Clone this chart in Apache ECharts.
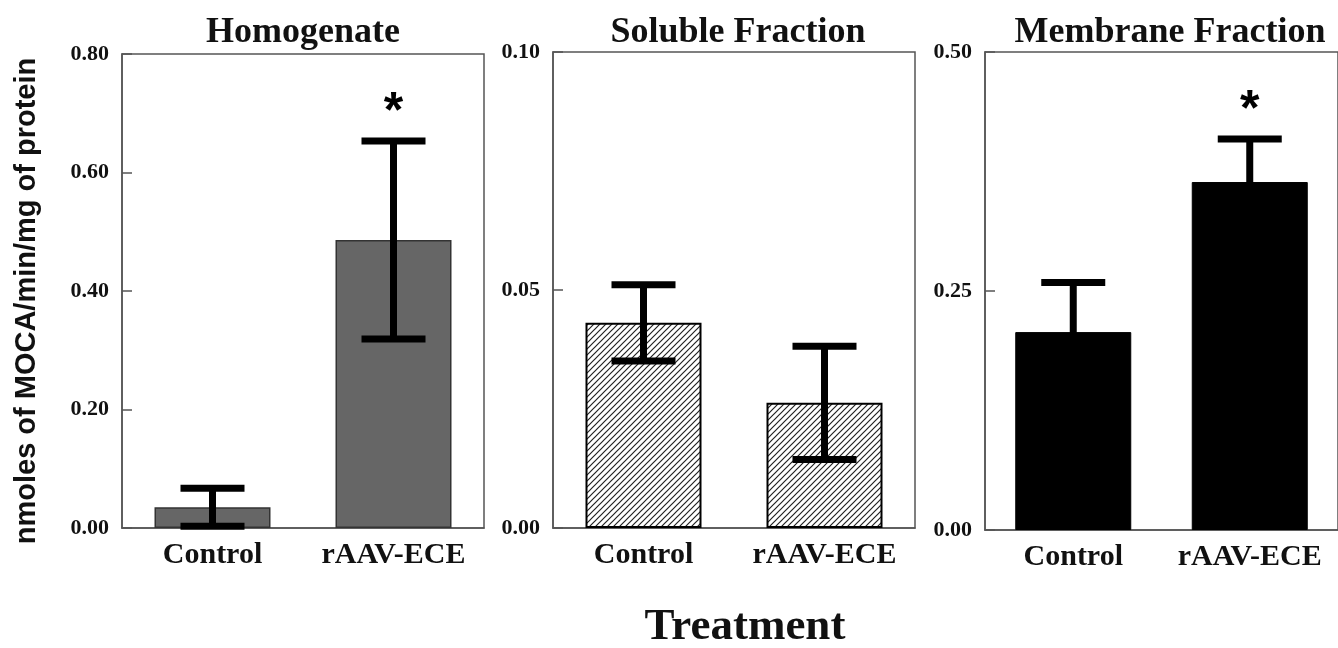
<!DOCTYPE html>
<html>
<head>
    <meta charset="utf-8">
    <title>MOCA activity</title>
    <style>
    html, body { margin: 0; padding: 0; background: #fff; }
    </style>
    <script type="text/javascript" src="https://cdn.jsdelivr.net/npm/echarts@6/dist/echarts.min.js"></script>
</head>
<body>
    <div id="main" style="width:1338px;height:648px"></div>
    <script>
    // data
    var categories = ['Control', 'rAAV-ECE'];
    var panelTitles = ['Homogenate', 'Soluble Fraction', 'Membrane Fraction'];

    var homMean = [0.035, 0.486];
    var homErr = [0.032, 0.167];
    var homSig = [0, 1];

    var solMean = [0.0431, 0.0263];
    var solErr = [0.008, 0.0119];
    var solSig = [0, 0];

    var memMean = [0.207, 0.364];
    var memErr = [0.052, 0.045];
    var memSig = [0, 1];

    var yMax = [0.8, 0.1, 0.5];
    var yStep = [0.2, 0.05, 0.25];

    var serif = 'Liberation Serif';
    var boxColor = '#555';

    // hatch pattern for the soluble fraction bars
    var hatch = document.createElement('canvas');
    hatch.width = 6;
    hatch.height = 6;
    var hc = hatch.getContext('2d');
    hc.fillStyle = '#fff';
    hc.fillRect(0, 0, 6, 6);
    hc.strokeStyle = '#222';
    hc.lineWidth = 1.2;
    hc.beginPath();
    hc.moveTo(0, 6); hc.lineTo(6, 0);
    hc.moveTo(-1, 1); hc.lineTo(1, -1);
    hc.moveTo(5, 7); hc.lineTo(7, 5);
    hc.stroke();

    function errData(mean, err, sig) {
        var out = [];
        for (var i = 0; i < mean.length; i++) {
            out.push([i, mean[i] - err[i], mean[i] + err[i], sig[i]]);
        }
        return out;
    }

    function renderErr(params, api) {
        var x = api.value(0);
        var lo = api.coord([x, api.value(1)]);
        var hi = api.coord([x, api.value(2)]);
        var half = 32;
        var st = { stroke: '#000', lineWidth: 7 };
        var kids = [
            { type: 'line', shape: { x1: hi[0], y1: hi[1], x2: lo[0], y2: lo[1] }, style: { stroke: '#000', lineWidth: 7 } },
            { type: 'line', shape: { x1: hi[0] - half, y1: hi[1], x2: hi[0] + half, y2: hi[1] }, style: st },
            { type: 'line', shape: { x1: lo[0] - half, y1: lo[1], x2: lo[0] + half, y2: lo[1] }, style: st }
        ];
        if (api.value(3)) {
            kids.push({
                type: 'text',
                x: hi[0], y: hi[1] - 28,
                style: { text: '*', font: 'bold 50px "Liberation Sans"', fill: '#000', align: 'center', verticalAlign: 'middle' }
            });
        }
        return { type: 'group', children: kids };
    }

    var grids = [
        { left: 122, top: 54, width: 362, height: 474 },
        { left: 553, top: 52, width: 362, height: 476 },
        { left: 985, top: 52, width: 362, height: 478 }
    ];

    var xAxes = [], yAxes = [];
    for (var g = 0; g < 3; g++) {
        grids[g].show = true;
        grids[g].borderColor = boxColor;
        grids[g].borderWidth = 1.5;
        grids[g].backgroundColor = '#fff';
        xAxes.push({
            type: 'category',
            gridIndex: g,
            data: categories,
            axisTick: { show: false },
            axisLine: { lineStyle: { color: boxColor, width: 1.5 } },
            axisLabel: { interval: 0, hideOverlap: false, color: '#111', fontFamily: serif, fontWeight: 'bold', fontSize: 30, margin: 12 }
        });
        yAxes.push({
            type: 'value',
            gridIndex: g,
            min: 0,
            max: yMax[g],
            interval: yStep[g],
            splitLine: { show: false },
            axisLine: { show: true, lineStyle: { color: boxColor, width: 1.5 } },
            axisTick: { show: true, inside: true, length: 10, lineStyle: { color: boxColor, width: 1.5 } },
            axisLabel: {
                color: '#111', fontFamily: serif, fontWeight: 'bold', fontSize: 22, margin: 13,
                formatter: function (v) { return v.toFixed(2); }
            }
        });
    }

    var means = [homMean, solMean, memMean];
    var errs = [homErr, solErr, memErr];
    var sigs = [homSig, solSig, memSig];
    var barStyles = [
        { color: '#666666', borderColor: '#333', borderWidth: 1.5 },
        { color: { image: hatch, repeat: 'repeat' }, borderColor: '#000', borderWidth: 2 },
        { color: '#000', borderColor: '#000', borderWidth: 1 }
    ];

    var series = [];
    for (var k = 0; k < 3; k++) {
        series.push({
            type: 'bar',
            xAxisIndex: k,
            yAxisIndex: k,
            barWidth: 116,
            itemStyle: barStyles[k],
            data: means[k],
            silent: true
        });
        series.push({
            type: 'custom',
            xAxisIndex: k,
            yAxisIndex: k,
            renderItem: renderErr,
            data: errData(means[k], errs[k], sigs[k]),
            z: 5,
            silent: true
        });
    }

    var titleX = [303, 738, 1170];
    var graphics = [];
    for (var t = 0; t < 3; t++) {
        graphics.push({
            type: 'text', x: titleX[t], y: 33,
            style: { text: panelTitles[t], font: 'bold 36px "Liberation Serif"', fill: '#111', align: 'center', verticalAlign: 'middle' }
        });
    }
    graphics.push({
        type: 'text', x: 27, y: 301, rotation: Math.PI / 2,
        style: { text: 'nmoles of MOCA/min/mg of protein', font: 'bold 29px "Liberation Sans"', fill: '#111', align: 'center', verticalAlign: 'middle' }
    });
    graphics.push({
        type: 'text', x: 745, y: 627,
        style: { text: 'Treatment', font: 'bold 45px "Liberation Serif"', fill: '#111', align: 'center', verticalAlign: 'middle' }
    });

    var option = {
        animation: false,
        grid: grids,
        xAxis: xAxes,
        yAxis: yAxes,
        series: series,
        graphic: graphics
    };

    var myChart = echarts.init(document.getElementById('main'));
    myChart.setOption(option);
    </script>
</body>
</html>
